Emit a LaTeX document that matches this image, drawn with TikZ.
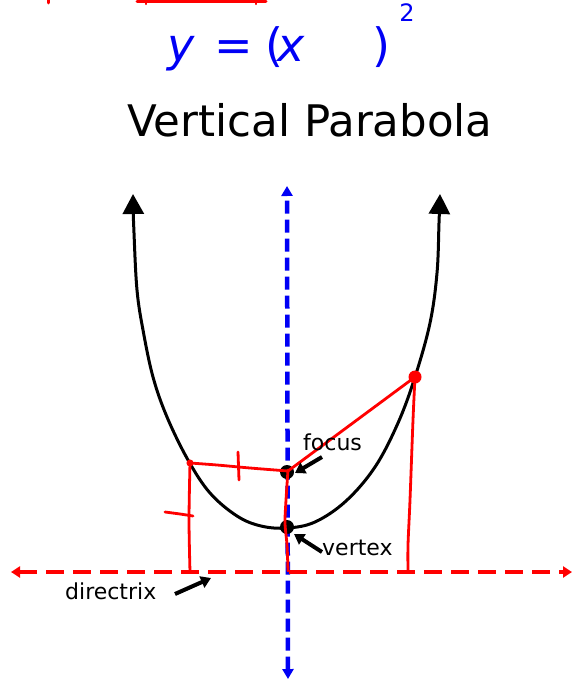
\documentclass[tikz,border=0pt]{standalone}
\usepackage{fontspec}
\setmainfont{DejaVu Sans}
\usetikzlibrary{arrows.meta}
\definecolor{pblue}{RGB}{0,0,245}
\definecolor{pred}{RGB}{255,0,0}
\begin{document}
\begin{tikzpicture}[x=1pt,y=-1pt,
  hand/.style={text=pblue,inner sep=0pt,font=\fontsize{46}{50}\selectfont},
  lbl/.style={inner sep=0pt,font=\fontsize{22}{26}\selectfont,anchor=base west},
  ink/.style={draw=pred,line width=2.8pt,line cap=round,line join=round},
  dot/.style={circle,fill=black,minimum size=14pt,inner sep=0pt},
  ptr/.style={draw=black,line width=4pt,-{Triangle[width=12pt,length=10pt]}},
  axisline/.style={draw=pblue,line width=4.5pt,dash pattern=on 13pt off 6pt,
    {Triangle[width=11pt,length=10pt]}-{Triangle[width=11pt,length=10pt]}},
  dirline/.style={draw=pred,line width=4pt,dash pattern=on 18pt off 9pt,
    {Triangle[width=11pt,length=9pt]}-{Triangle[width=11pt,length=9pt]}},
  curve/.style={draw=black,line width=3pt,
    {Triangle[width=21pt,length=20pt]}-{Triangle[width=21pt,length=20pt]}}]
\useasboundingbox (0,0) rectangle (574,682);
% top red marks
\draw[ink,line width=3pt] (48,-2) -- (48,3);
\draw[ink,line width=3pt] (137,1.5) -- (266,1.5);
\draw[ink,line width=2.5pt] (146,0) -- (146,4);
\draw[ink,line width=2.5pt] (256,0) -- (256,4);
% handwritten equation
\node[hand,anchor=base] (hy) at (181,62) {\itshape y};
\node[hand,anchor=base] (heq) at (234,62) {=};
\node[hand,anchor=base] (hlp) at (274,62) {(};
\node[hand,anchor=base] (hx) at (291,62) {\itshape x};
\node[hand,anchor=base] (hrp) at (381,62) {)};
\node[hand,anchor=base,font=\fontsize{24}{26}\selectfont] (h2) at (407,22) {2};
% title
\node[inner sep=0pt,anchor=base,font=\fontsize{43.5}{50}\selectfont] (title) at (310,136) {Vertical Parabola};
% parabola
\draw[curve] plot[smooth,tension=0.6] coordinates {(133,194) (134,233) (137,290) (143,330) (153,377) (167,417) (188,460) (210,493) (237,516) (261,526) (287,528) (315,522) (346,501) (375,467) (398,423) (415,377) (430,323) (437,273) (439,223) (440,194)};
% axis of symmetry
\coordinate (axT) at (287,186);
\coordinate (axB) at (288,679);
\draw[axisline] (axB) -- (axT);
% directrix
\coordinate (dL) at (11,572);
\coordinate (dR) at (572,572);
\draw[dirline] (dL) -- (dR);
% dots
\node[dot] (F) at (287,472) {};
\node[dot] (V) at (287,527) {};
\coordinate (P1) at (190,463);
\node[circle,fill=pred,minimum size=13pt,inner sep=0pt] (P2) at (415,377) {};
\coordinate (D1) at (190,572);
\coordinate (D0) at (288,571);
\coordinate (D2) at (408,571);
% red hand lines
\draw[ink] plot[smooth] coordinates {(P1) (217,465) (250,468) (288,471)};
\draw[ink] (288,471) -- (P2.center);
\draw[ink] plot[smooth] coordinates {(288,470) (286,500) (285,523) (287,545) (D0)};
\draw[ink] plot[smooth] coordinates {(P2.center) (413,420) (410,500) (408,545) (D2)};
\draw[ink] (403,571) -- (413,571);
\draw[ink] plot[smooth] coordinates {(P1) (189,520) (D1)};
\draw[ink] (238,452) -- (239,480);
\draw[ink] plot[smooth] coordinates {(165,512) (180,514) (193,516)};
\node[circle,draw=pred,fill=pred,line width=1pt,minimum size=6pt,inner sep=0pt] (P1dot) at (P1) {};
% labels
\node[lbl] (lf) at (303,450) {focus};
\node[lbl] (lv) at (322,555) {vertex};
\node[lbl] (ld) at (65,599) {directrix};
\coordinate (fT) at (322,457);
\coordinate (vT) at (322,552);
\coordinate (dT) at (175,594);
\draw[ptr] (fT) -- (295,473);
\draw[ptr] (vT) -- (294,534);
\draw[ptr] (dT) -- (211,578);
\end{tikzpicture}
\end{document}
